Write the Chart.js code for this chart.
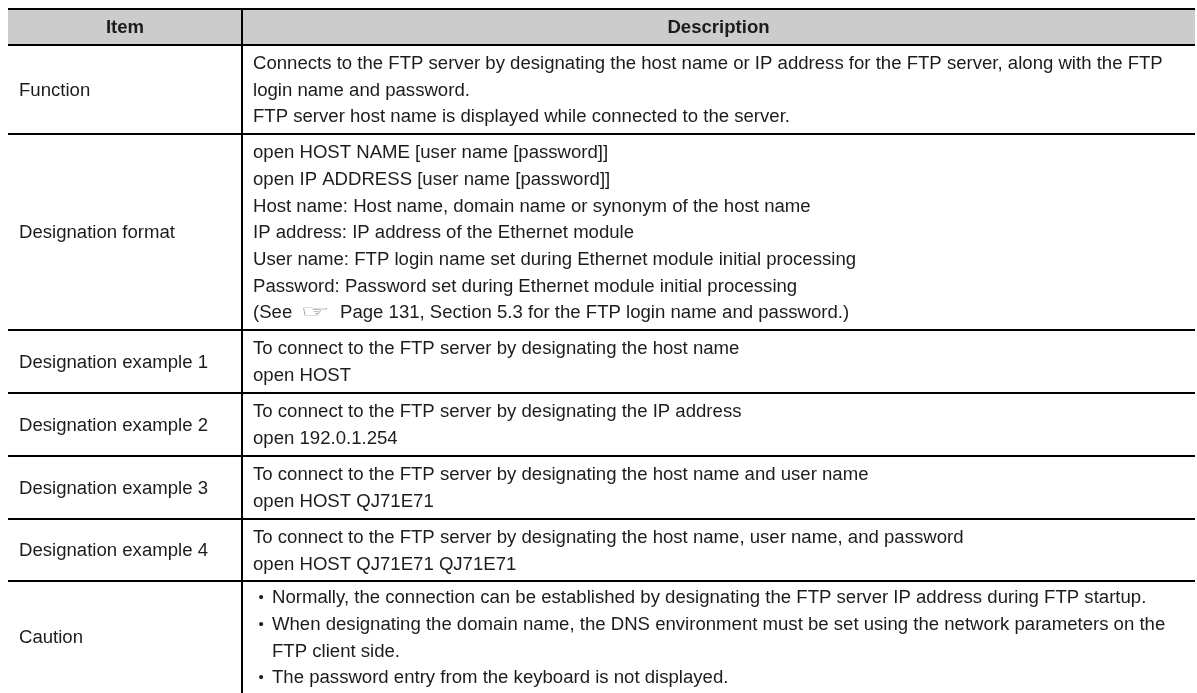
<!DOCTYPE html>
<html><head><meta charset="utf-8">
<style>html,body{margin:0;padding:0;background:#fff}canvas{display:block}</style>
<script src="https://cdn.jsdelivr.net/npm/chart.js@4"></script></head>
<body><canvas id="c" width="1197" height="693"></canvas>
<script>
const headers = ["Item", "Description"];
const items = ["Function","Designation format","Designation example 1","Designation example 2","Designation example 3","Designation example 4","Caution"];
const descriptions = [
 ["Connects to the FTP server by designating the host name or IP address for the FTP server, along with the FTP","login name and password.","FTP server host name is displayed while connected to the server."],
 ["open HOST NAME [user name [password]]","open IP ADDRESS [user name [password]]","Host name: Host name, domain name or synonym of the host name","IP address: IP address of the Ethernet module","User name: FTP login name set during Ethernet module initial processing","Password: Password set during Ethernet module initial processing","(See \u261E Page 131, Section 5.3 for the FTP login name and password.)"],
 ["To connect to the FTP server by designating the host name","open HOST"],
 ["To connect to the FTP server by designating the IP address","open 192.0.1.254"],
 ["To connect to the FTP server by designating the host name and user name","open HOST QJ71E71"],
 ["To connect to the FTP server by designating the host name, user name, and password","open HOST QJ71E71 QJ71E71"],
 ["\u2022 Normally, the connection can be established by designating the FTP server IP address during FTP startup.","\u2022 When designating the domain name, the DNS environment must be set using the network parameters on the","  FTP client side.","\u2022 The password entry from the keyboard is not displayed."]
];
const columnEdges = [8, 242, 1195];
const rowEdges = [9, 45, 134, 330, 393, 456, 519, 581, 693];

const FONT = '"Liberation Sans", Arial, sans-serif';
const SIZE = 18.58, PITCH = 26.67, PAD = 11, NUDGE = 1.2;
const tablePlugin = {
  id: 'tableText',
  afterDraw(chart) {
    const {ctx, scales:{x, y}} = chart;
    ctx.save();
    ctx.textBaseline = 'middle';
    ctx.fillStyle = '#1c1c1c';
    const cy = i => (y.getPixelForValue(rowEdges[i]) + y.getPixelForValue(rowEdges[i+1])) / 2 + NUDGE;
    const x0 = x.getPixelForValue(columnEdges[0]), x1 = x.getPixelForValue(columnEdges[1]), x2 = x.getPixelForValue(columnEdges[2]);
    const bodyFont = SIZE + 'px ' + FONT;
    ctx.font = 'bold ' + SIZE + 'px ' + FONT;
    ctx.textAlign = 'center';
    ctx.fillText(headers[0], (x0 + x1) / 2, cy(0));
    ctx.fillText(headers[1], (x1 + x2) / 2, cy(0));
    ctx.textAlign = 'left';
    ctx.font = bodyFont;
    items.forEach((t, i) => ctx.fillText(t, x0 + PAD, cy(i + 1)));
    descriptions.forEach((lines, i) => {
      const c = cy(i + 1);
      lines.forEach((line, j) => {
        const ly = c + (j - (lines.length - 1) / 2) * PITCH;
        let lx = x1 + PAD;
        if (line.startsWith('\u2022 ')) {
          ctx.font = '15px ' + FONT;
          ctx.fillText('\u2022', lx + 5.5, ly);
          ctx.font = bodyFont;
          ctx.fillText(line.slice(2), lx + 19, ly);
        } else if (line.startsWith('  ')) {
          ctx.fillText(line.trim(), lx + 19, ly);
        } else if (line.includes('\u261E')) {
          const [a, b] = line.split('\u261E');
          ctx.fillText(a, lx, ly);
          ctx.save();
          ctx.fillStyle = '#808080';
          ctx.font = '20px "DejaVu Sans"';
          ctx.translate(lx + 47.5, ly - 0.5);
          ctx.scale(1.65, 0.85);
          ctx.fillText('\u261E', 0, 0);
          ctx.restore();
          ctx.fillText(b.trim(), lx + 87, ly);
        } else {
          ctx.fillText(line, lx, ly);
        }
      });
    });
    ctx.restore();
  }
};
new Chart(document.getElementById('c'), {
  type: 'scatter',
  data: { datasets: [{
    type: 'line',
    data: [{x: columnEdges[0], y: rowEdges[1]}, {x: columnEdges[2], y: rowEdges[1]}],
    borderWidth: 0, pointRadius: 0, backgroundColor: '#cccccc', fill: {value: rowEdges[0]}
  }]},
  options: {
    responsive: false, animation: false,
    layout: {padding: {left: 8, right: 2, top: 9, bottom: 0}},
    plugins: {legend: {display: false}, tooltip: {enabled: false}, title: {display: false}},
    scales: {
      x: { type: 'linear', min: columnEdges[0], max: columnEdges[2], border: {display: false},
        ticks: {display: false},
        afterBuildTicks: s => { s.ticks = [{value: columnEdges[1]}]; },
        grid: {color: '#000', lineWidth: 2, drawTicks: false, z: 1} },
      y: { type: 'linear', reverse: true, min: rowEdges[0], max: rowEdges[rowEdges.length - 1], border: {display: false},
        ticks: {display: false},
        afterBuildTicks: s => { s.ticks = rowEdges.slice(0, -1).map(v => ({value: v})); },
        grid: {color: '#000', lineWidth: 2, drawTicks: false, z: 1} }
    }
  },
  plugins: [tablePlugin]
});
</script></body></html>
